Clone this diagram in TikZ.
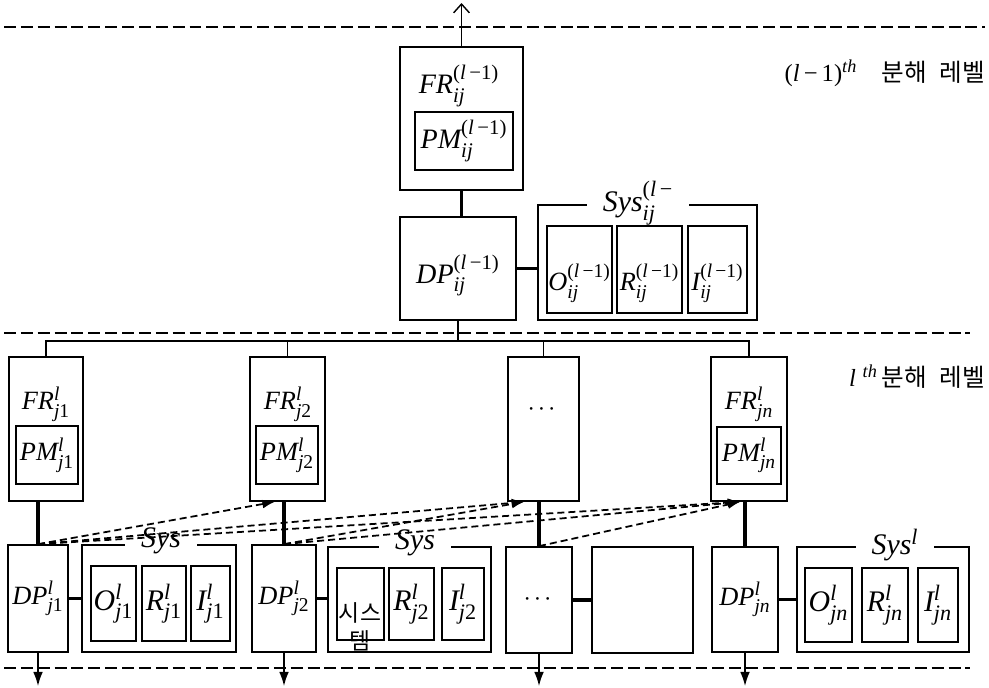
\documentclass[tikz,border=0pt]{standalone}
\usepackage{amsmath}
\usepackage{mathptmx}
\usepackage[no-math]{fontspec}
\setmainfont{Liberation Serif}
\newfontfamily\krfont{Noto Sans CJK KR}
\usetikzlibrary{calc,positioning,fit,arrows.meta}

% italic symbol with stacked sub- and superscript
\newcommand\vlab[3]{$\textit{#1}_{\text{#2}}^{#3}$}
\newcommand\prev{\text{(\textit{l}\,−1)}}
\newcommand\lev{\textit{l}}

\tikzset{
  box/.style={draw, line width=1pt, inner sep=0pt},
  lab/.style={inner sep=0pt, font=\fontsize{15}{18}\selectfont},
  labu/.style={inner sep=0pt, font=\fontsize{16}{19}\selectfont},
  elem/.style={inner sep=0pt, font=\fontsize{17}{20}\selectfont},
  elemu/.style={inner sep=0pt, font=\fontsize{15}{18}\selectfont},
  syslab/.style={fill=white, inner xsep=9pt, inner ysep=1pt, font=\fontsize{17}{20}\selectfont},
  lvl/.style={inner sep=0pt, font=\fontsize{14}{17}\selectfont},
  sep/.style={line width=1.1pt, dash pattern=on 6.8pt off 2.8pt},
  link/.style={line width=2pt},
  bus/.style={line width=0.8pt},
  flow/.style={line width=1pt, dash pattern=on 4pt off 2.3pt, -{Latex[length=7pt,width=5pt]}},
  outdown/.style={line width=0.8pt, -{Latex[length=8pt,width=5.5pt]}},
  outup/.style={line width=0.8pt, -{Straight Barb[length=5pt,width=9pt]}}
}

\begin{document}
\begin{tikzpicture}[x=0.02cm, y=-0.02cm]
\useasboundingbox (0,0) rectangle (989,687);

% level separators
\draw[sep] (4,27) -- (985,27);
\draw[sep] (4,333) -- (970,333);
\draw[sep] (4,668) -- (970,668);

\node[lvl, anchor=east] (lvlu) at (985,73) {(\textit{l}\,−\,1)$^{\textit{th}}$\quad{\krfont 분해\enspace 레벨}};
\node[lvl, anchor=east] (lvll) at (985,377) {\textit{l}\;$^{\textit{th}}$\,{\krfont 분해\enspace 레벨}};

% (l-1) level
\node[box, fit={(400,47) (523,190)}] (fru) {};
\node[labu] (frut) at (459,86) {\vlab{FR}{\textit{ij}}{\prev}};
\node[box, fit={(415,112) (513,170)}] (pmu) {};
\node[labu] (pmut) at (pmu) {\vlab{PM}{\textit{ij}}{\prev}};
\node[box, fit={(400,217) (516,320)}] (dpu) {};
\node[labu] (dput) at ([yshift=-4]dpu.center) {\vlab{DP}{\textit{ij}}{\prev}};
\node[box, fit={(538,205) (757,320)}] (sysu) {};
\node[syslab] (sysut) at (638,203) {\vlab{Sys}{\textit{ij}}{\text{(\textit{l}\,−}}};
\node[box, fit={(547,226) (612,313)}] (ou) {};
\node[box, fit={(617,226) (682,313)}] (ru) {};
\node[box, fit={(688,226) (747,313)}] (iu) {};
\node[elemu] (out) at ([yshift=-8]ou.center) {\vlab{O}{\textit{ij}}{\prev}};
\node[elemu] (rut) at ([yshift=-8]ru.center) {\vlab{R}{\textit{ij}}{\prev}};
\node[elemu] (iut) at ([yshift=-8]iu.center) {\vlab{I}{\textit{ij}}{\prev}};

% l level: functional requirements
\node[box, fit={(9,357) (83,501)}] (fr1) {};
\node[lab] (fr1t) at (46,404) {\vlab{FR}{\textit{j}1}{\lev}};
\node[box, fit={(16,426) (78,484)}] (pm1) {};
\node[lab] (pm1t) at (pm1) {\vlab{PM}{\textit{j}1}{\lev}};
\node[box, fit={(250,357) (325,501)}] (fr2) {};
\node[lab] (fr2t) at (288,404) {\vlab{FR}{\textit{j}2}{\lev}};
\node[box, fit={(256,426) (318,484)}] (pm2) {};
\node[lab] (pm2t) at (pm2) {\vlab{PM}{\textit{j}2}{\lev}};
\node[box, fit={(508,357) (579,501)}] (fr3) {};
\node[lab] (fr3t) at (543,410) {$\cdots$};
\node[box, fit={(711,357) (787,501)}] (frn) {};
\node[lab] (frnt) at (749,404) {\vlab{FR}{\textit{jn}}{\lev}};
\node[box, fit={(717,427) (781,484)}] (pmn) {};
\node[lab] (pmnt) at (pmn) {\vlab{PM}{\textit{jn}}{\lev}};

% l level: design parameters and systems
\node[box, fit={(8,545) (68,652)}] (dp1) {};
\node[lab] (dp1t) at (dp1) {\vlab{DP}{\textit{j}1}{\lev}};
\node[box, fit={(82,545) (236,652)}] (sys1) {};
\node[syslab] (sys1t) at (161,541) {\textit{Sys}};
\node[box, fit={(91,566) (136,641)}] (o1) {};
\node[box, fit={(142,566) (186,641)}] (r1) {};
\node[box, fit={(191,566) (230,641)}] (i1) {};
\node[elem] (o1t) at (o1) {\vlab{O}{\textit{j}1}{\lev}};
\node[elem] (r1t) at (r1) {\vlab{R}{\textit{j}1}{\lev}};
\node[elem] (i1t) at (i1) {\vlab{I}{\textit{j}1}{\lev}};

\node[box, fit={(252,545) (316,652)}] (dp2) {};
\node[lab] (dp2t) at (dp2) {\vlab{DP}{\textit{j}2}{\lev}};
\node[box, fit={(328,547) (491,652)}] (sys2) {};
\node[syslab] (sys2t) at (415,543) {\textit{Sys}};
\node[box, fit={(337,568) (384,640)}] (s2) {};
\node[box, fit={(389,568) (434,640)}] (r2) {};
\node[box, fit={(442,568) (484,640)}] (i2) {};
\node[align=center, inner sep=0pt, font=\krfont\fontsize{13}{16}\selectfont] (s2t) at (360,627) {시스\\템};
\node[elem] (r2t) at (r2) {\vlab{R}{\textit{j}2}{\lev}};
\node[elem] (i2t) at (i2) {\vlab{I}{\textit{j}2}{\lev}};

\node[box, fit={(506,547) (572,653)}] (dp3) {};
\node[lab] (dp3t) at (dp3) {$\cdots$};
\node[box, fit={(592,547) (693,653)}] (sys3) {};

\node[box, fit={(712,547) (778,652)}] (dpn) {};
\node[lab] (dpnt) at (dpn) {\vlab{DP}{\textit{jn}}{\lev}};
\node[box, fit={(797,547) (969,652)}] (sysn) {};
\node[syslab] (sysnt) at (895,545) {\textit{Sys}$^{\textit{l}}$};
\node[box, fit={(805,568) (852,642)}] (on) {};
\node[box, fit={(862,568) (908,642)}] (rn) {};
\node[box, fit={(918,568) (958,642)}] (in) {};
\node[elem] (ont) at (on) {\vlab{O}{\textit{jn}}{\lev}};
\node[elem] (rnt) at (rn) {\vlab{R}{\textit{jn}}{\lev}};
\node[elem] (int) at (in) {\vlab{I}{\textit{jn}}{\lev}};

% connectors
\coordinate (topend) at (461,3);
\coordinate (bus) at (460,341);
\coordinate (bot) at (0,686);

\draw[outup] (fru.north) -- (fru.north |- topend);
\draw[link] (fru.south) -- (fru.south |- dpu.north);
\draw[link] (dpu.east) -- (dpu.east -| sysu.west);
\draw[bus] (dpu.south) -- (dpu.south |- bus);
\draw[bus] (fr1.north) -- (fr1.north |- bus) -- (frn.north |- bus) -- (frn.north);
\draw[bus] (fr2.north) -- (fr2.north |- bus);
\draw[bus] (fr3.north) -- (fr3.north |- bus);

\foreach \k in {1,2,3,n}{
  \draw[link] (dp\k.north) -- (dp\k.north |- fr\k.south);
  \draw[link] (dp\k.east) -- (dp\k.east -| sys\k.west);
  \draw[outdown] (dp\k.south) -- (dp\k.south |- bot);
}

% coupling between design parameters and later requirements
\draw[flow] (dp1.north) -- (fr2.-100);
\draw[flow] (dp1.north) -- (fr3.-105);
\draw[flow] (dp1.north) -- (frn.-97);
\draw[flow] (dp2.north) -- (fr3.-105);
\draw[flow] (dp2.north) -- (frn.-97);
\draw[flow] (dp3.north) -- (frn.-97);
\end{tikzpicture}
\end{document}
